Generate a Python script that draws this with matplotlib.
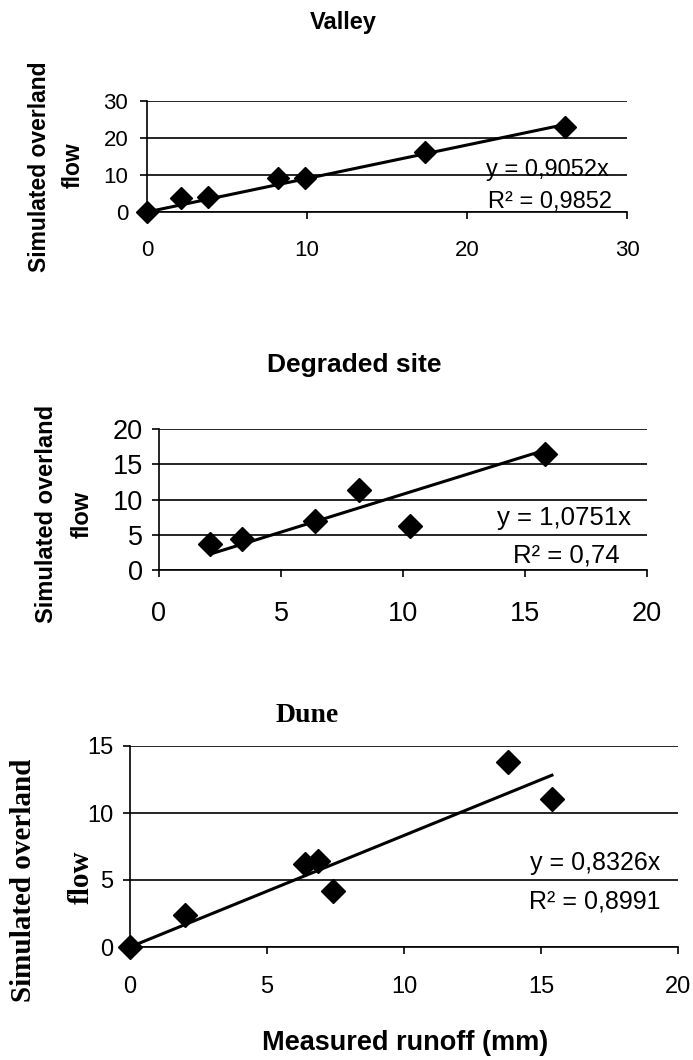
import matplotlib

matplotlib.use("Agg")
import matplotlib.pyplot as plt  # noqa: E402

W, H = 693, 1060

SANS = ["Liberation Sans", "DejaVu Sans"]
SERIF = ["Liberation Serif", "DejaVu Serif"]

# Valley
valley_x = [0, 2.1, 3.8, 8.2, 9.9, 17.4, 26.1]
valley_y = [0, 3.7, 4.1, 9.1, 9.2, 16.1, 23.0]
valley_slope = 0.9052
valley_r2 = "0,9852"

# Degraded site
degraded_x = [2.1, 3.4, 6.4, 8.2, 10.3, 15.8]
degraded_y = [3.7, 4.4, 6.9, 11.3, 6.2, 16.4]
degraded_slope = 1.0751
degraded_r2 = "0,74"

# Dune
dune_x = [0, 2.0, 6.4, 6.85, 7.4, 13.8, 15.4]
dune_y = [0, 2.4, 6.2, 6.4, 4.15, 13.8, 11.05]
dune_slope = 0.8326
dune_r2 = "0,8991"


def px_axes(fig, left, top, right, bottom):
    return fig.add_axes([left / W, 1 - bottom / H, (right - left) / W, (bottom - top) / H])


def fig_text(fig, x, y, s, **kw):
    fig.text(x / W, 1 - y / H, s, ha="center", va="center", **kw)


def eq_label(slope):
    return f"y = {slope:.4f}x".replace(".", ",")


def panel(fig, box, xs, ys, slope, xmax, ymax, xstep, ystep, size, xpad, ypad, ms):
    ax = px_axes(fig, *box)
    fit_x = [min(xs), max(xs)]
    ax.plot(xs, ys, "D", color="black", ms=ms, zorder=3, clip_on=False)
    ax.plot(fit_x, [slope * v for v in fit_x], color="black", lw=2.2, zorder=4, clip_on=False)
    ax.set_xlim(0, xmax)
    ax.set_ylim(0, ymax)
    ax.set_xticks(range(0, xmax + 1, xstep))
    ax.set_yticks(range(0, ymax + 1, ystep))
    ax.grid(axis="y", color="black", lw=1.2)
    ax.set_axisbelow(True)
    for s in ("top", "right"):
        ax.spines[s].set_visible(False)
    for s in ("left", "bottom"):
        ax.spines[s].set_linewidth(1.2)
    ax.tick_params(direction="out", length=5, width=1.2, labelsize=size, labelfontfamily=SANS)
    ax.tick_params(axis="x", pad=xpad)
    ax.tick_params(axis="y", pad=ypad)
    return ax


fig = plt.figure(figsize=(W / 100, H / 100), dpi=100)

# Valley panel
panel(fig, (147, 101, 627, 212), valley_x, valley_y, valley_slope, 30, 30, 10, 10, 16, 15, 8.5, 11)
fig_text(fig, 343, 23, "Valley", family=SANS, fontsize=17, fontweight="bold")
fig_text(fig, 40, 167, "Simulated overland", family=SANS, fontsize=16.5, fontweight="bold", rotation=90)
fig_text(fig, 73, 165, "flow", family=SANS, fontsize=16.5, fontweight="bold", rotation=90)
fig_text(fig, 547, 170, eq_label(valley_slope), family=SANS, fontsize=17)
fig_text(fig, 550, 202, "R² = " + valley_r2, family=SANS, fontsize=17)

# Degraded site panel
panel(fig, (159, 429, 647, 570), degraded_x, degraded_y, degraded_slope, 20, 20, 5, 5, 19.5, 17.5, 6.5, 12)
fig_text(fig, 354, 365, "Degraded site", family=SANS, fontsize=19, fontweight="bold")
fig_text(fig, 47, 514, "Simulated overland", family=SANS, fontsize=17, fontweight="bold", rotation=90)
fig_text(fig, 82, 514, "flow", family=SANS, fontsize=17, fontweight="bold", rotation=90)
fig_text(fig, 564, 518, eq_label(degraded_slope), family=SANS, fontsize=18.5)
fig_text(fig, 566, 555, "R² = " + degraded_r2, family=SANS, fontsize=18.5)

# Dune panel
panel(fig, (130, 746, 678, 947), dune_x, dune_y, dune_slope, 20, 15, 5, 5, 17, 16, 7, 12)
fig_text(fig, 307, 715, "Dune", family=SERIF, fontsize=20, fontweight="bold")
fig_text(fig, 24, 880, "Simulated overland", family=SERIF, fontsize=21, fontweight="bold", rotation=90)
fig_text(fig, 81, 877, "flow", family=SERIF, fontsize=21, fontweight="bold", rotation=90)
fig_text(fig, 595, 863, eq_label(dune_slope), family=SANS, fontsize=18)
fig_text(fig, 595, 902, "R² = " + dune_r2, family=SANS, fontsize=18)
fig_text(fig, 405, 1043, "Measured runoff (mm)", family=SANS, fontsize=19.5, fontweight="bold")

fig.savefig("out.png", dpi=100)
